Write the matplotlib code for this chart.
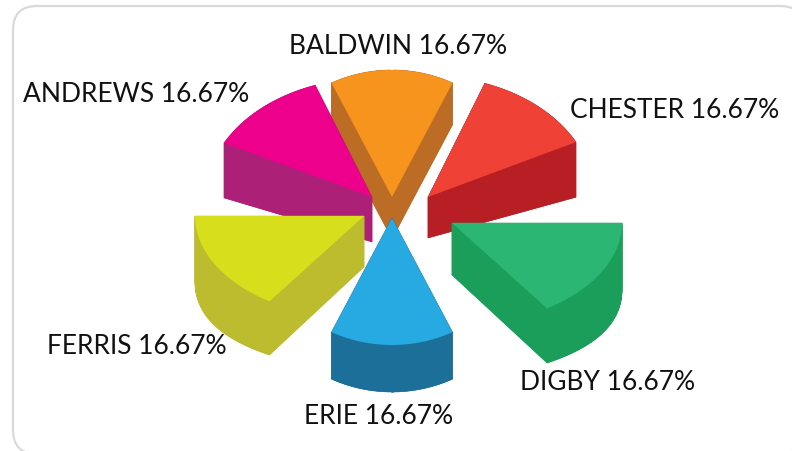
import numpy as np
import matplotlib
matplotlib.use("Agg")
import matplotlib.pyplot as plt
from matplotlib.patches import FancyBboxPatch, Polygon

# chart data
names = ["BALDWIN", "CHESTER", "ANDREWS", "FERRIS", "DIGBY", "ERIE"]  # draw order, back to front
shares = [16.67, 16.67, 16.67, 16.67, 16.67, 16.67]

top_colors = ["#F7941D", "#F04136", "#EC008C", "#D7DF1D", "#2BB673", "#27AAE1"]
side_colors = ["#BC6C25", "#B71F25", "#AC2177", "#BDBB2E", "#1B9E5A", "#1C6F98"]

# fake 3d view of each slice
center = (392, 207)
explode = [(0, -10), (36, -10), (-20, -10), (-28, 9), (60, 16), (0, 11)]
mid_angle = [90, 48.5, 131.5, 208, -28, 270]
squeeze = [0.867, 0.717, 0.717, 0.933, 0.933, 0.867]
radius_x = [138, 166, 166, 169, 170, 138]
radius_y = [127, 121, 119, 103, 103, 127]
depth_near = [42, 41, 45, 51, 52, 47]
depth_far = [42, 61, 59, 66, 67, 47]

label_pos = [(398, 46), (675, 110), (136, 95), (137, 347), (608, 382), (379, 417)]

plt.rcParams["font.family"] = ["Lato", "DejaVu Sans"]


def slice_outline(i):
    sweep = shares[i] * 3.6 * squeeze[i]
    t = np.radians(np.linspace(mid_angle[i] - sweep / 2, mid_angle[i] + sweep / 2, 60))
    dx = radius_x[i] * np.cos(t)
    dy = -radius_y[i] * np.sin(t)
    # depth grows towards the sides, slow at first
    depth = depth_near[i] + (depth_far[i] - depth_near[i]) * (np.abs(dx) / radius_x[i]) ** 3
    ax0 = center[0] + explode[i][0]
    ay0 = center[1] + explode[i][1]
    xs = np.concatenate([[ax0], ax0 + dx])
    ys = np.concatenate([[ay0], ay0 + dy])
    ds = np.concatenate([[depth_near[i]], depth])
    return xs, ys, ds


fig = plt.figure(figsize=(7.92, 4.51), dpi=100)
ax = fig.add_axes([0, 0, 1, 1])
ax.set_xlim(0, 792)
ax.set_ylim(451, 0)
ax.axis("off")

card = FancyBboxPatch((13, 6), 791, 448, boxstyle="round,pad=0,rounding_size=24",
                      facecolor="white", edgecolor="#DADADA", linewidth=1.6, clip_on=True)
ax.add_patch(card)

for i in range(len(names)):
    xs, ys, ds = slice_outline(i)
    n = len(xs)
    # side walls, one strip per outline segment
    for a in range(n):
        b = (a + 1) % n
        quad = [(xs[a], ys[a]), (xs[b], ys[b]), (xs[b], ys[b] + ds[b]), (xs[a], ys[a] + ds[a])]
        ax.add_patch(Polygon(quad, closed=True, facecolor=side_colors[i],
                             edgecolor=side_colors[i], linewidth=0.4))
    ax.add_patch(Polygon(np.column_stack([xs, ys + ds]), closed=True,
                         facecolor=side_colors[i], edgecolor="none"))
    ax.add_patch(Polygon(np.column_stack([xs, ys]), closed=True,
                         facecolor=top_colors[i], edgecolor="none"))

for i in range(len(names)):
    ax.text(label_pos[i][0], label_pos[i][1], "%s %.2f%%" % (names[i], shares[i]),
            ha="center", va="center", fontsize=19, color="#111111")

fig.savefig("out.png", dpi=100)
